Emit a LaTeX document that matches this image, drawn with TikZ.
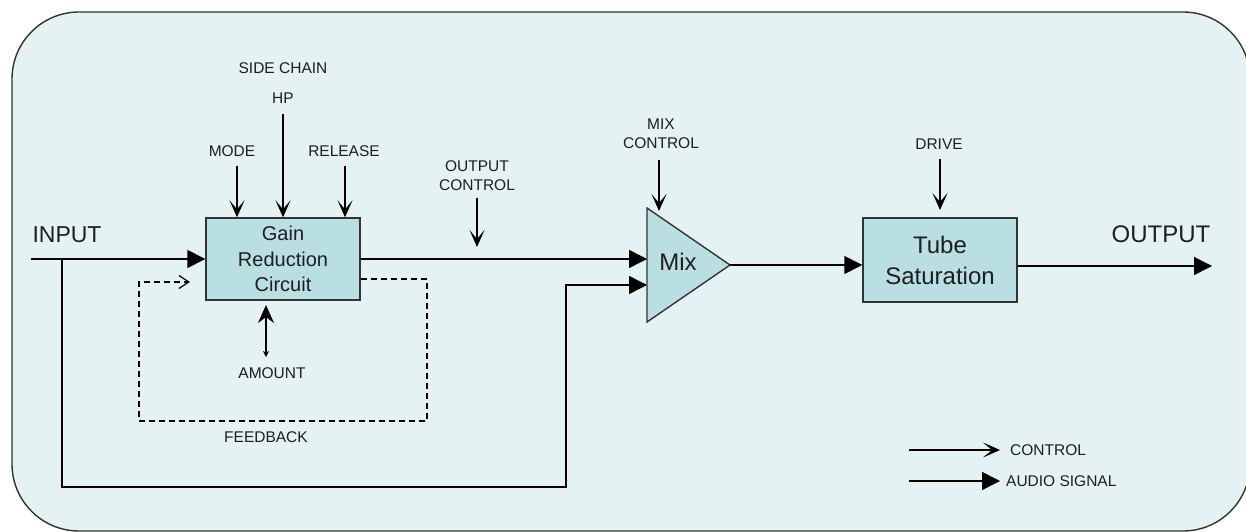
\documentclass[tikz,border=0pt]{standalone}
\usepackage{fontspec}
\setmainfont{Liberation Sans}
\usetikzlibrary{arrows.meta,calc}
\definecolor{bg}{HTML}{E4F2F4}
\definecolor{boxfill}{HTML}{B9DFE3}
\definecolor{txt}{HTML}{1E1E1E}
\definecolor{edge}{HTML}{333333}
\begin{document}
\begin{tikzpicture}[x=1pt,y=-1pt,
  block/.style={draw=edge, line width=1.4pt, fill=boxfill, align=center, text=txt, inner sep=0pt},
  lbl/.style={font=\fontsize{15.5}{19}\selectfont, text=txt, align=center, inner sep=0pt},
  big/.style={font=\fontsize{23}{27}\selectfont, text=txt, inner sep=0pt},
  ctrl/.style={line width=1.5pt, -{Stealth[length=17pt,width=15pt,inset=9pt]}},
  audio/.style={line width=1.5pt, -{Triangle[length=18pt,width=18pt]}},
  fb/.style={line width=1.4pt, dash pattern=on 6pt off 4pt}
]
\useasboundingbox (0,0) rectangle (1246,532);
% frame
\draw[draw=edge, line width=1.4pt, fill=bg, rounded corners=67pt] (12,12) rectangle (1250,531);

% blocks
\node[block, minimum width=154pt, minimum height=82pt, font=\fontsize{20}{25.5}\selectfont] (grc) at (283,259) {Gain\\Reduction\\Circuit};
\node[block, minimum width=154pt, minimum height=84pt, font=\fontsize{24}{31}\selectfont] (tube) at (940,260) {Tube\\Saturation};

% mix triangle
\coordinate (mixT) at (647,208);
\coordinate (mixB) at (647,322);
\coordinate (mixO) at (730,265);
\coordinate (mixin1) at (647,259);
\coordinate (mixin2) at (647,285);
\draw[draw=edge, line width=1.4pt, fill=boxfill] (mixT) -- (mixO) -- (mixB) -- cycle;
\node[big, font=\fontsize{24}{28}\selectfont] (mix) at (678,262) {Mix};

% labels
\node[big] (input) at (67,235) {INPUT};
\node[big, font=\fontsize{24}{28}\selectfont] (output) at (1161,234) {OUTPUT};
\node[lbl] (sidechain) at (283,68) {SIDE CHAIN};
\node[lbl] (hp) at (283,98) {HP};
\node[lbl] (mode) at (232,151) {MODE};
\node[lbl] (release) at (344,151) {RELEASE};
\node[lbl] (outctl) at (477,175.5) {OUTPUT\\CONTROL};
\node[lbl] (mixctl) at (661,133.5) {MIX\\CONTROL};
\node[lbl] (drive) at (939,144) {DRIVE};
\node[lbl] (amount) at (272,373) {AMOUNT};
\node[lbl] (feedback) at (266,437) {FEEDBACK};

% audio path
\coordinate (inS) at (31,259);
\coordinate (byp) at (62,259);
\coordinate (retc) at (566,487);
\coordinate (outE) at (1212,266);
\draw[audio] (inS) -- (grc.west);
\draw[audio] (byp) |- (retc) |- (mixin2);
\draw[audio] (grc.east) -- (mixin1);
\draw[audio] (mixO) -- (mixO -| tube.west);
\draw[audio] (tube.east |- outE) -- (outE);

% control arrows
\coordinate (modeS) at (237,166);
\coordinate (hpS) at (283,114);
\coordinate (relS) at (345,166);
\draw[ctrl] (modeS) -- (modeS |- grc.north);
\draw[ctrl] (hpS) -- (hpS |- grc.north);
\draw[ctrl] (relS) -- (relS |- grc.north);
\coordinate (ocS) at (477,198);
\coordinate (ocE) at (477,247);
\draw[ctrl] (ocS) -- (ocE);
\coordinate (mcS) at (659,160);
\coordinate (mcE) at (659,211);
\draw[ctrl] (mcS) -- (mcE);
\coordinate (drS) at (940,159);
\coordinate (drE) at (940,210);
\draw[ctrl] (drS) -- (drE);

% amount
\coordinate (amtT) at (266,305);
\coordinate (amtB) at (266,357);
\draw[line width=1.4pt, {Stealth[length=18pt,width=16pt,inset=6pt]}-{Stealth[length=6pt,width=6pt]}] (amtT) -- (amtB);

% feedback
\coordinate (fbE) at (190,282);
\draw[fb, -{Straight Barb[length=10pt,width=13pt,line width=1.2pt]}] (grc.east |- 0,279) -- (427,279) -- (427,421) -- (139,421) -- (139,282) -- (fbE);

% legend
\coordinate (lc1) at (909,450);
\coordinate (lc2) at (1000,450);
\coordinate (la1) at (909,481);
\coordinate (la2) at (1000,481);
\draw[ctrl] (lc1) -- (lc2);
\draw[audio] (la1) -- (la2);
\node[lbl, anchor=west] (legc) at (1010,450) {CONTROL};
\node[lbl, anchor=west] (lega) at (1006,481) {AUDIO SIGNAL};
\end{tikzpicture}
\end{document}
